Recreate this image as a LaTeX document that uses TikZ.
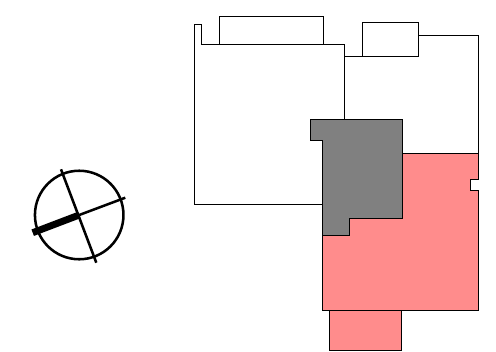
\documentclass[tikz,border=0pt]{standalone}
\definecolor{roompink}{HTML}{FF8C8C}
\definecolor{roomgray}{HTML}{808080}
\tikzset{wall/.style={line width=0.7pt,draw=black}}
\begin{document}
\begin{tikzpicture}[x=0.75pt,y=-0.75pt]
\useasboundingbox (0,0) rectangle (496,351);
% outline of the white rooms
\draw [wall] (322.5,204.8) -- (194,204.8) -- (194,24.8) -- (201.9,24.8) -- (201.9,44.8) -- (344.2,44.8) -- (344.2,119);
\draw [wall] (219.2,44.8) -- (219.2,16.2) -- (323.9,16.2) -- (323.9,44.8);
\draw [wall] (344.2,56.2) -- (362.4,56.2) -- (362.4,22.9) -- (418.2,22.9) -- (418.2,56.2) -- (362.4,56.2);
\draw [wall] (418.2,35.8) -- (478.4,35.8) -- (478.4,153);
% pink rooms
\draw [wall,fill=roompink] (329.5,310) -- (329.5,350) -- (401.5,350) -- (401.5,310) -- cycle;
\draw [wall,fill=roompink] (402.5,153.2) -- (478.4,153.2) -- (478.4,179) -- (470.9,179) -- (470.9,190) -- (478.4,190) -- (478.4,310) -- (322.5,310) -- (322.5,235.7) -- (349.5,235.7) -- (349.5,218.3) -- (402.5,218.3) -- cycle;
% gray room
\draw [wall,fill=roomgray] (310.2,119.2) -- (402.5,119.2) -- (402.5,218.3) -- (349.5,218.3) -- (349.5,235.7) -- (322.5,235.7) -- (322.5,140.9) -- (310.2,140.9) -- cycle;
% compass
\coordinate (N) at (79.2,215);
\coordinate (A) at (61,169.3);
\coordinate (B) at (96.3,262.7);
\coordinate (C) at (125.3,197.7);
\coordinate (D) at (32.7,232.7);
\draw [line width=1.9pt] (N) circle (33.2pt);
\draw [line width=1.9pt] (A) to (B);
\draw [line width=1.9pt] (C) to (N);
\draw [line width=5.2pt] (N) to (D);
\end{tikzpicture}
\end{document}
